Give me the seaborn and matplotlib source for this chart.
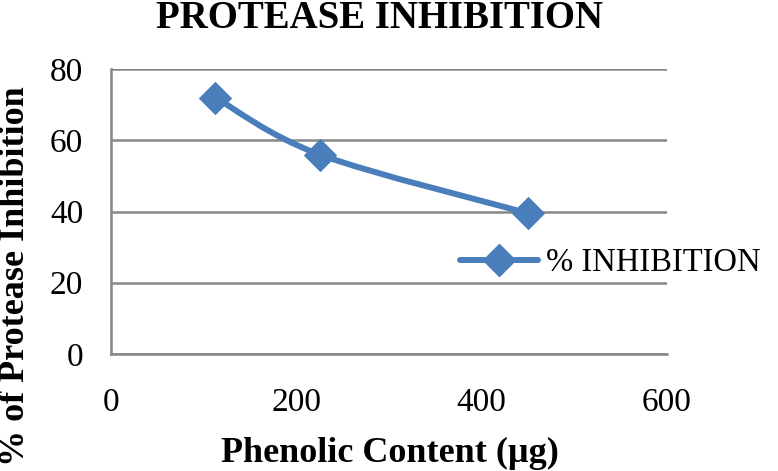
import numpy as np
import matplotlib
matplotlib.use("Agg")
import matplotlib.pyplot as plt
import seaborn as sns
from matplotlib.path import Path
from matplotlib.patches import PathPatch
from matplotlib.lines import Line2D

# data
phenolic = [112.5, 225, 450]
inhibition = [72.0, 56.0, 39.5]
series_name = "% INHIBITION"
x_ticks = [0, 200, 400, 600]
y_ticks = [0, 20, 40, 60, 80]

BLUE = "#4a7ebb"
GRID = "#868686"

sns.set_style("white")
plt.rcParams["font.family"] = ["Liberation Serif", "DejaVu Serif"]
plt.rcParams["text.color"] = "black"
plt.rcParams["xtick.labelcolor"] = "black"
plt.rcParams["ytick.labelcolor"] = "black"

W, H = 778, 471
fig = plt.figure(figsize=(W / 100, H / 100), dpi=100)
ax = fig.add_axes([111 / W, 1 - 354 / H, 556 / W, 285 / H])

# markers through seaborn
sns.lineplot(x=phenolic, y=inhibition, ax=ax, marker="D", markersize=16,
             color=BLUE, linewidth=0, markeredgecolor=BLUE, zorder=4)

# smoothed connecting line (Excel-style bezier through the points)
pts = np.column_stack([phenolic, inhibition]).astype(float)
verts, codes = [pts[0]], [Path.MOVETO]
for i in range(len(pts) - 1):
    p0 = pts[i - 1] if i > 0 else pts[i]
    p1, p2 = pts[i], pts[i + 1]
    p3 = pts[i + 2] if i + 2 < len(pts) else pts[i + 1]
    c1 = p1 + (p2 - p0) / 6
    c2 = p2 - (p3 - p1) / 6
    verts += [c1, c2, p2]
    codes += [Path.CURVE4] * 3
ax.add_patch(PathPatch(Path(verts, codes), facecolor="none", edgecolor=BLUE,
                       lw=4.3, capstyle="round", zorder=3))

ax.set_xlim(0, 600)
ax.set_ylim(0, 80)
ax.set_xticks(x_ticks)
ax.set_yticks(y_ticks)
ax.yaxis.grid(True, color=GRID, linewidth=1.8)
ax.set_axisbelow(True)
for s in ["top", "right"]:
    ax.spines[s].set_visible(False)
for s in ["left", "bottom"]:
    ax.spines[s].set_color(GRID)
    ax.spines[s].set_linewidth(1.8)
ax.tick_params(axis="both", direction="out", length=7, width=1.8, color=GRID,
               labelsize=24)
ax.tick_params(axis="y", pad=13)
ax.tick_params(axis="x", pad=17)
ax.set_xlabel("")
ax.set_ylabel("")

fig.text(380 / W, 1 - 28 / H, "PROTEASE INHIBITION", fontsize=28,
         fontweight="bold", ha="center", va="baseline")
fig.text(390 / W, 1 - 462 / H, "Phenolic Content (\u00b5g)", fontsize=26,
         fontweight="bold", ha="center", va="baseline")
fig.text(16 / W, 1 - 276 / H, "% of Protease Inhibition", fontsize=26,
         fontweight="bold", ha="center", va="center", rotation=90)

handle = Line2D([], [], color=BLUE, lw=4.3, marker="D", markersize=16,
                solid_capstyle="round")
fig.legend([handle], [series_name], loc="center left", frameon=False,
           bbox_to_anchor=(460 / W, 1 - 263 / H), fontsize=23.5,
           handlelength=2.4, handletextpad=0.25, borderpad=0, borderaxespad=0)

fig.savefig("out.png", dpi=100)
